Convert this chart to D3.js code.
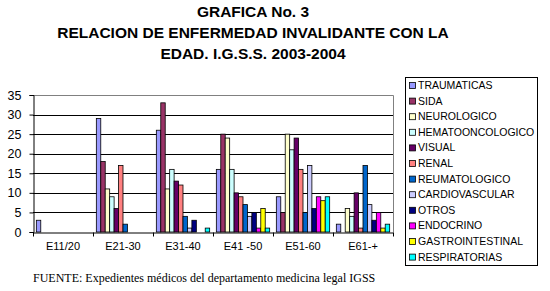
<!DOCTYPE html>
<html>
<head>
<meta charset="utf-8">
<script src="https://cdn.jsdelivr.net/npm/d3@7"></script>
<style>
  body { margin: 0; background: #fff; }
  svg { display: block; }
</style>
</head>
<body>
<svg id="chart" width="550" height="291"></svg>
<script>
// categories (age groups)
const categories = ["E11/20", "E21-30", "E31-40", "E41 -50", "E51-60", "E61-+"];

// one array per disease, values per age group
const traumaticas   = [3, 29, 26, 16, 9, 2];
const sida          = [0, 18, 33, 25, 5, 0];
const neurologico   = [0, 11, 11, 24, 25, 6];
const hemato        = [0, 9, 16, 16, 21, 4];
const visual        = [0, 6, 13, 10, 24, 10];
const renal         = [0, 17, 12, 9, 16, 1];
const reumatologico = [0, 2, 4, 7, 5, 17];
const cardio        = [0, 0, 1, 4, 17, 7];
const otros         = [0, 0, 3, 5, 6, 3];
const endocrino     = [0, 0, 0, 1, 9, 5];
const gastro        = [0, 0, 0, 6, 8, 1];
const respiratorias = [0, 0, 1, 1, 9, 2];

const seriesNames = ["TRAUMATICAS", "SIDA", "NEUROLOGICO", "HEMATOONCOLOGICO", "VISUAL", "RENAL",
  "REUMATOLOGICO", "CARDIOVASCULAR", "OTROS", "ENDOCRINO", "GASTROINTESTINAL", "RESPIRATORIAS"];
const seriesValues = [traumaticas, sida, neurologico, hemato, visual, renal,
  reumatologico, cardio, otros, endocrino, gastro, respiratorias];
const seriesColors = ["#9999FF", "#993366", "#FFFFCC", "#CCFFFF", "#660066", "#FF8080",
  "#0066CC", "#CCCCFF", "#000080", "#FF00FF", "#FFFF00", "#00FFFF"];

const yTicks = [0, 5, 10, 15, 20, 25, 30, 35];

const svg = d3.select('#chart');

// title
const titleLines = ["GRAFICA No. 3", "RELACION DE ENFERMEDAD INVALIDANTE CON LA", "EDAD. I.G.S.S. 2003-2004"];
svg.selectAll('text.title')
  .data(titleLines)
  .enter()
  .append('text')
  .attr('class', 'title')
  .attr('x', 253)
  .attr('y', (d, i) => 17 + i * 21)
  .attr('text-anchor', 'middle')
  .style('font-family', 'Liberation Sans, Arial, sans-serif')
  .style('font-size', '15.5px')
  .style('font-weight', 'bold')
  .text(d => d);

// plot area
const plotLeft = 33, plotRight = 393, plotTop = 95, plotBottom = 232;

const x = d3.scaleBand()
  .domain(categories)
  .range([plotLeft, plotRight])
  .paddingInner(0.111)
  .paddingOuter(0.0555);

const xs = d3.scaleBand()
  .domain(seriesNames)
  .range([0, x.bandwidth()]);

const y = d3.scaleLinear()
  .domain([0, 35])
  .range([plotBottom, plotTop]);

// gridlines
svg.append('g')
  .selectAll('line')
  .data(yTicks.filter(t => t > 0 && t < 35))
  .enter()
  .append('line')
  .attr('x1', plotLeft).attr('x2', plotRight)
  .attr('y1', d => Math.round(y(d)) + 0.5).attr('y2', d => Math.round(y(d)) + 0.5)
  .attr('stroke', '#000')
  .attr('stroke-width', 1);

// plot border top/right (grey)
svg.append('path')
  .attr('d', `M${plotLeft},${y(35) + 0.5}H${plotRight + 0.5}V${plotBottom}`)
  .attr('fill', 'none')
  .attr('stroke', '#808080');

// bars
const barData = [];
seriesNames.forEach((name, si) => {
  categories.forEach((cat, ci) => {
    const v = seriesValues[si][ci];
    if (v > 0) barData.push({ name, cat, v, color: seriesColors[si] });
  });
});

svg.append('g')
  .selectAll('rect')
  .data(barData)
  .enter()
  .append('rect')
  .attr('x', d => x(d.cat) + xs(d.name))
  .attr('y', d => y(d.v))
  .attr('width', xs.bandwidth())
  .attr('height', d => y(0) - y(d.v))
  .attr('fill', d => d.color)
  .attr('stroke', '#000')
  .attr('stroke-width', 0.8);

// y axis
const yAxis = svg.append('g')
  .attr('transform', `translate(${plotLeft + 0.5},0)`)
  .call(d3.axisLeft(y).tickValues(yTicks).tickSize(4).tickPadding(8));
yAxis.select('.domain').attr('stroke', '#000');
yAxis.selectAll('text')
  .style('font-family', 'Liberation Sans, Arial, sans-serif')
  .style('font-size', '12.5px')
  .attr('fill', '#000');

// x axis with ticks at category boundaries
const xAxis = svg.append('g')
  .attr('transform', `translate(0,${plotBottom + 0.5})`)
  .call(d3.axisBottom(x).tickSize(0).tickPadding(10));
xAxis.select('.domain').attr('stroke', '#000');
xAxis.selectAll('text')
  .style('font-family', 'Liberation Sans, Arial, sans-serif')
  .style('font-size', '11px')
  .attr('fill', '#000');
const step = x.step();
xAxis.append('g')
  .selectAll('line')
  .data(d3.range(categories.length + 1))
  .enter()
  .append('line')
  .attr('x1', i => Math.round(plotLeft + i * step) + 0.5)
  .attr('x2', i => Math.round(plotLeft + i * step) + 0.5)
  .attr('y1', 0).attr('y2', 4)
  .attr('stroke', '#000');

// legend
const legend = svg.append('g');
legend.append('rect')
  .attr('x', 405.5).attr('y', 77.5)
  .attr('width', 132).attr('height', 188)
  .attr('fill', '#fff')
  .attr('stroke', '#000');
const items = legend.selectAll('g.item')
  .data(seriesNames)
  .enter()
  .append('g')
  .attr('transform', (d, i) => `translate(409,${87 + i * 15.6})`);
items.append('rect')
  .attr('x', 0.5).attr('y', -4.5)
  .attr('width', 6).attr('height', 6)
  .attr('fill', (d, i) => seriesColors[i])
  .attr('stroke', '#000')
  .attr('stroke-width', 0.8);
items.append('text')
  .attr('x', 9)
  .attr('y', 2)
  .style('font-family', 'Liberation Sans, Arial, sans-serif')
  .style('font-size', '10.5px')
  .text(d => d);

// footer
svg.append('text')
  .attr('x', 33)
  .attr('y', 282)
  .style('font-family', 'Liberation Serif, Times New Roman, serif')
  .style('font-size', '12px')
  .text('FUENTE: Expedientes médicos del departamento medicina legal IGSS');
</script>
</body>
</html>
